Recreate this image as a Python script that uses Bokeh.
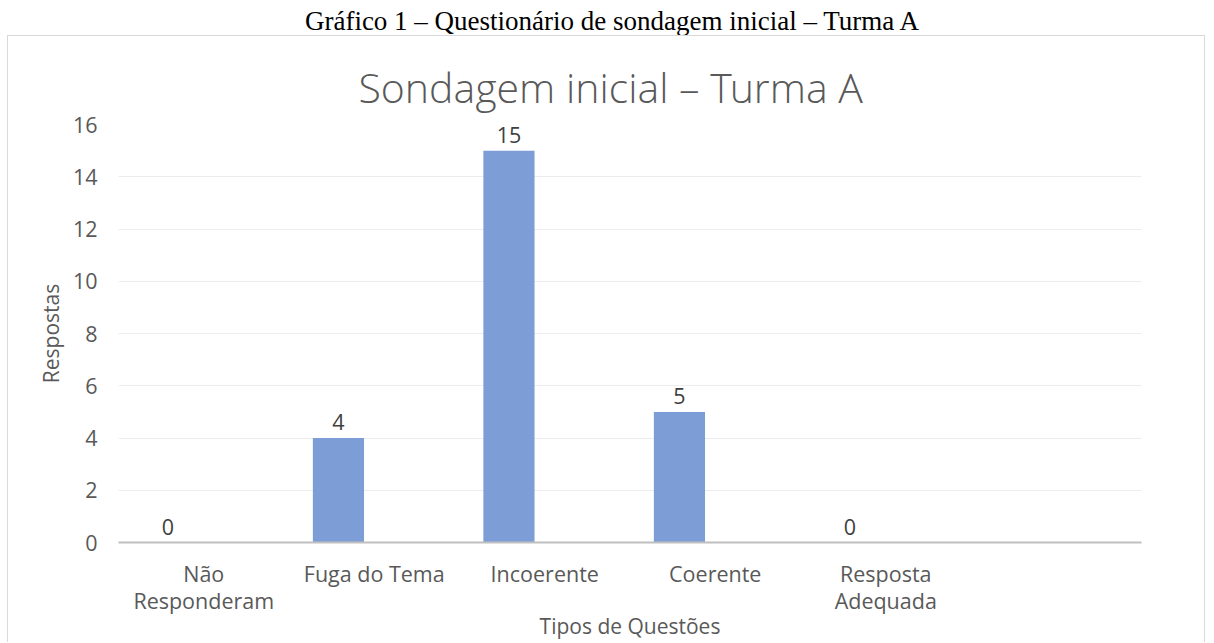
from bokeh.plotting import figure
from bokeh.models import FactorRange, Range1d, FixedTicker, ColumnDataSource, Title, Div
from bokeh.transform import dodge
from bokeh.layouts import column
from bokeh.core.properties import value
from bokeh.embed import file_html
from bokeh.resources import INLINE

caption = "Gráfico 1 – Questionário de sondagem inicial – Turma A"
chart_title = "Sondagem inicial – Turma A"
categories = ["Não\nResponderam", "Fuga do Tema", "Incoerente", "Coerente", "Resposta\nAdequada", " "]
bar_categories = ["Não\nResponderam", "Fuga do Tema", "Incoerente", "Coerente", "Resposta\nAdequada"]
respostas = [0, 4, 15, 5, 0]
y_ticks = [0, 2, 4, 6, 8, 10, 12, 14, 16]
x_title = "Tipos de Questões"
y_title = "Respostas"

FONT = "Open Sans"
TICK_COLOR = "#595959"
TICK_SIZE = "21.5px"

cap = Div(text=caption, width=1204, height=35, margin=(0, 0, 0, 10),
          styles={"font-family": "'Liberation Serif', 'Times New Roman', serif",
                  "font-size": "27px", "color": "#000000", "text-align": "center",
                  "line-height": "35px", "padding-top": "4px", "box-sizing": "border-box",
                  "white-space": "nowrap"})

source = ColumnDataSource(dict(cat=bar_categories, val=respostas, lbl=[str(v) for v in respostas]))

p = figure(width=1198, height=607, toolbar_location=None, output_backend="svg",
           x_range=FactorRange(factors=categories, range_padding=0),
           y_range=Range1d(0, 16),
           min_border_left=110, min_border_right=65, min_border_top=88, min_border_bottom=101)
p.margin = (0, 0, 0, 7)
p.styles = {"border-top": "1px solid #d9d9d9", "border-left": "1px solid #d9d9d9",
            "border-right": "1px solid #d9d9d9"}
p.outline_line_color = None

t = Title(text=chart_title, align="left", text_font="'Open Sans Light', 'Lato Light', 'Open Sans'",
          text_font_size="41px", text_font_style="normal", text_color=TICK_COLOR, standoff=19,
          offset=240)
p.add_layout(t, "above")

p.vbar(x=dodge("cat", -0.21, range=p.x_range), top="val", width=0.3, source=source,
       fill_color="#7C9DD6", line_color=None)
p.text(x=dodge("cat", -0.21, range=p.x_range), y="val", text="lbl", source=source,
       text_align="center", text_baseline="alphabetic", y_offset=-16,
       text_font=value(FONT), text_font_size=TICK_SIZE, text_color="#404040")

p.xgrid.visible = False
p.ygrid.grid_line_color = "#ececec"
p.ygrid.grid_line_width = 1
p.yaxis.ticker = FixedTicker(ticks=y_ticks)
p.yaxis.axis_line_color = None
p.yaxis.major_tick_line_color = None
p.yaxis.minor_tick_line_color = None
p.yaxis.major_label_standoff = 15
p.yaxis.axis_label = y_title
p.yaxis.axis_label_standoff = 5

p.xaxis.axis_line_color = "#bfbfbf"
p.xaxis.axis_line_width = 2
p.xaxis.major_tick_line_color = None
p.xaxis.minor_tick_line_color = None
p.xaxis.major_label_standoff = 10
p.xaxis.axis_label = x_title
p.xaxis.axis_label_standoff = -6
p.xaxis.major_label_text_line_height = 0.95

for ax in [p.xaxis[0], p.yaxis[0]]:
    ax.major_label_text_font = FONT
    ax.major_label_text_font_size = TICK_SIZE
    ax.major_label_text_color = TICK_COLOR
    ax.axis_label_text_font = FONT
    ax.axis_label_text_font_size = "21px"
    ax.axis_label_text_font_style = "normal"
    ax.axis_label_text_color = TICK_COLOR

layout = column(cap, p, spacing=0)
open("out.html", "w").write(file_html(layout, INLINE))
